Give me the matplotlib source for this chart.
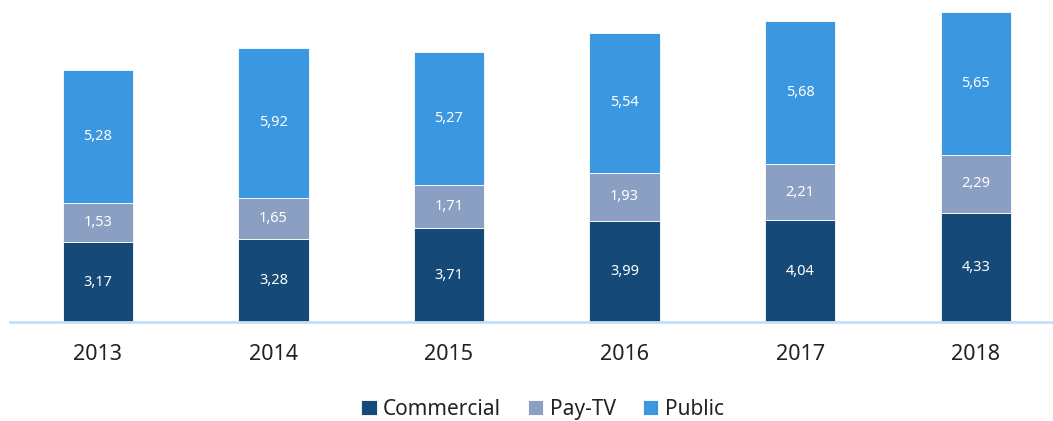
import numpy as np
import matplotlib
matplotlib.use("Agg")
import matplotlib.pyplot as plt

years = ["2013", "2014", "2015", "2016", "2017", "2018"]
commercial = [3.17, 3.28, 3.71, 3.99, 4.04, 4.33]
pay_tv = [1.53, 1.65, 1.71, 1.93, 2.21, 2.29]
public = [5.28, 5.92, 5.27, 5.54, 5.68, 5.65]

series = [("Commercial", commercial, "#154a78"),
          ("Pay-TV", pay_tv, "#8a9fc1"),
          ("Public", public, "#3a97e0")]

plt.rcParams["font.family"] = ["Noto Sans", "DejaVu Sans"]

fig = plt.figure(figsize=(10.53, 4.21), dpi=100)
ax = fig.add_axes([0.0095, 0.235, 0.9905, 0.765])

x = np.arange(len(years))
bottom = np.zeros(len(years))
for name, vals, color in series:
    vals = np.array(vals)
    ax.bar(x, vals, 0.4, bottom=bottom, color=color, edgecolor="white",
           linewidth=0.6, label=name, zorder=2)
    for xi, b, v in zip(x, bottom, vals):
        ax.text(xi, b + v / 2, f"{v:.2f}".replace(".", ","), ha="center",
                va="center", color="white", fontsize=10.5)
    bottom += vals

ax.set_xlim(-0.5, 5.44)
ax.set_ylim(0, 12.75)
ax.set_yticks([])
ax.set_xticks(x)
ax.set_xticklabels(years, fontsize=15.5, color="#222222")
ax.tick_params(axis="x", length=0, pad=16)
for s in ["top", "right", "left"]:
    ax.spines[s].set_visible(False)
ax.spines["bottom"].set_color("#c5dff5")
ax.spines["bottom"].set_linewidth(2)

fig.legend(loc="center", bbox_to_anchor=(0.515, 0.028), ncol=3, frameon=False,
           fontsize=15, handlelength=0.75, handleheight=0.75, handletextpad=0.3,
           columnspacing=1.3, labelcolor="#222222")

fig.savefig("out.png", dpi=100)
